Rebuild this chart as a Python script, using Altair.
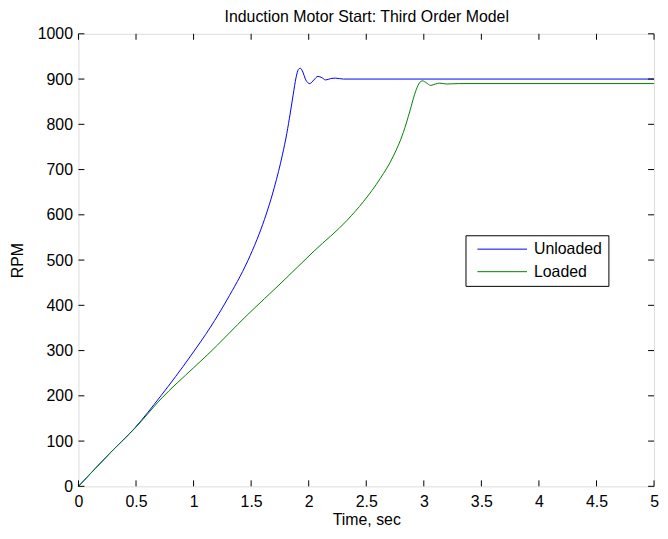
import altair as alt
import pandas as pd

# Unloaded motor speed (RPM) vs time (s)
unloaded_t = [0, 0.284, 0.486, 0.716, 0.974, 1.147, 1.29, 1.472, 1.55, 1.616, 1.702, 1.773,
              1.81, 1.84, 1.865, 1.89, 1.91, 1.926, 1.945, 1.975, 2.009, 2.045, 2.08,
              2.115, 2.147, 2.19, 2.233, 2.3, 5.0]
unloaded_rpm = [0, 76, 128, 200, 288, 352, 412, 499, 545, 590, 661, 734,
                780, 825, 865, 903, 921, 924, 918, 898, 890, 898, 906,
                903, 898, 901, 902, 900, 900]

# Loaded motor speed (RPM) vs time (s)
loaded_t = [0, 0.284, 0.5, 0.716, 1.0, 1.118, 1.472, 1.759, 2.047, 2.334, 2.478,
            2.621, 2.736, 2.822, 2.88, 2.92, 2.95, 2.975, 2.99, 3.02, 3.06, 3.1,
            3.138, 3.2, 3.3, 5.0]
loaded_rpm = [0, 76, 131, 193, 262, 290, 380, 449, 520, 588, 630,
              680, 730, 782, 830, 866, 886, 895, 896, 892, 886, 889,
              891, 889, 890, 890]

series_names = ["Unloaded", "Loaded"]
series_colors = ["#0000ff", "#008000"]

x_ticks = [0, 0.5, 1, 1.5, 2, 2.5, 3, 3.5, 4, 4.5, 5]
y_ticks = [0, 100, 200, 300, 400, 500, 600, 700, 800, 900, 1000]

TITLE = "Induction Motor Start: Third Order Model"
FONT = "Liberation Sans"
W, H = 580, 456
TICK = 6

df = pd.concat([
    pd.DataFrame({"t": unloaded_t, "rpm": unloaded_rpm, "series": "Unloaded", "order": range(len(unloaded_t))}),
    pd.DataFrame({"t": loaded_t, "rpm": loaded_rpm, "series": "Loaded", "order": range(len(loaded_t))}),
])
xt = pd.DataFrame({"t": x_ticks})
yt = pd.DataFrame({"rpm": y_ticks})

xscale = alt.Scale(domain=[0, 5], nice=False, zero=False)
yscale = alt.Scale(domain=[0, 1000], nice=False, zero=False)

lines = alt.Chart(df).mark_line(strokeWidth=1, interpolate="monotone").encode(
    x=alt.X("t:Q", scale=xscale,
            axis=alt.Axis(values=x_ticks, format="~g", title="Time, sec", ticks=False, tickSize=0,
                          domain=False, grid=False, labelFlush=False, labelOverlap=False,
                          labelBaseline="alphabetic", labelPadding=20,
                          labelFontSize=16, labelFont=FONT, labelColor="black",
                          titleFontSize=16, titleFont=FONT, titleFontWeight="normal",
                          titleColor="black", titleX=W / 2, titleY=38,
                          titleBaseline="alphabetic", titleAlign="center")),
    y=alt.Y("rpm:Q", scale=yscale,
            axis=alt.Axis(values=y_ticks, format="d", title="RPM", ticks=False, tickSize=0,
                          domain=False, grid=False, labelFlush=False, labelOverlap=False,
                          labelPadding=6, labelFontSize=16, labelFont=FONT,
                          labelColor="black", titleFontSize=16, titleFont=FONT,
                          titleFontWeight="normal", titleColor="black",
                          titleX=-61, titleY=H / 2, titleAngle=270,
                          titleBaseline="middle", titleAlign="center")),
    color=alt.Color("series:N",
                    scale=alt.Scale(domain=series_names, range=series_colors),
                    legend=alt.Legend(title=None, orient="none", legendX=390, legendY=203,
                                      symbolType="M-0.33,0H8", symbolSize=144,
                                      symbolStrokeWidth=1, symbolFillColor="transparent",
                                      labelFontSize=16, labelFont=FONT, labelColor="black",
                                      padding=6, labelOffset=47, rowPadding=6.7,
                                      strokeColor="black", fillColor="white")),
    order="order:Q",
)

tick_style = dict(color="black", strokeWidth=1)
bottom_ticks = alt.Chart(xt).mark_rule(**tick_style).encode(
    x=alt.X("t:Q", scale=xscale, axis=None), y=alt.value(H), y2=alt.value(H - TICK))
# top tick row carries the chart title as the title of a top axis
top_ticks = alt.Chart(xt).mark_rule(**tick_style).encode(
    x=alt.X("t:Q", scale=xscale,
            axis=alt.Axis(orient="top", title=TITLE, labels=False, ticks=False, tickSize=0,
                          domain=False, grid=False, titleFontSize=16, titleFont=FONT,
                          titleFontWeight="normal", titleColor="black",
                          titleX=W / 2, titleY=-12, titleBaseline="alphabetic",
                          titleAlign="center")),
    y=alt.value(0), y2=alt.value(TICK))
left_ticks = alt.Chart(yt).mark_rule(**tick_style).encode(
    y=alt.Y("rpm:Q", scale=yscale), x=alt.value(0), x2=alt.value(TICK))
right_ticks = alt.Chart(yt).mark_rule(**tick_style).encode(
    y=alt.Y("rpm:Q", scale=yscale), x=alt.value(W), x2=alt.value(W - TICK))

chart = alt.layer(lines, top_ticks, bottom_ticks, left_ticks, right_ticks).resolve_axis(
    x="independent"
).properties(
    width=W, height=H,
    autosize=alt.AutoSizeParams(type="none"),
    padding={"left": 71, "top": 24, "right": 6, "bottom": 43},
).configure_view(stroke="black", strokeWidth=1).configure(background="white")

chart.save("out.html", embed_options={"renderer": "svg", "actions": False})
